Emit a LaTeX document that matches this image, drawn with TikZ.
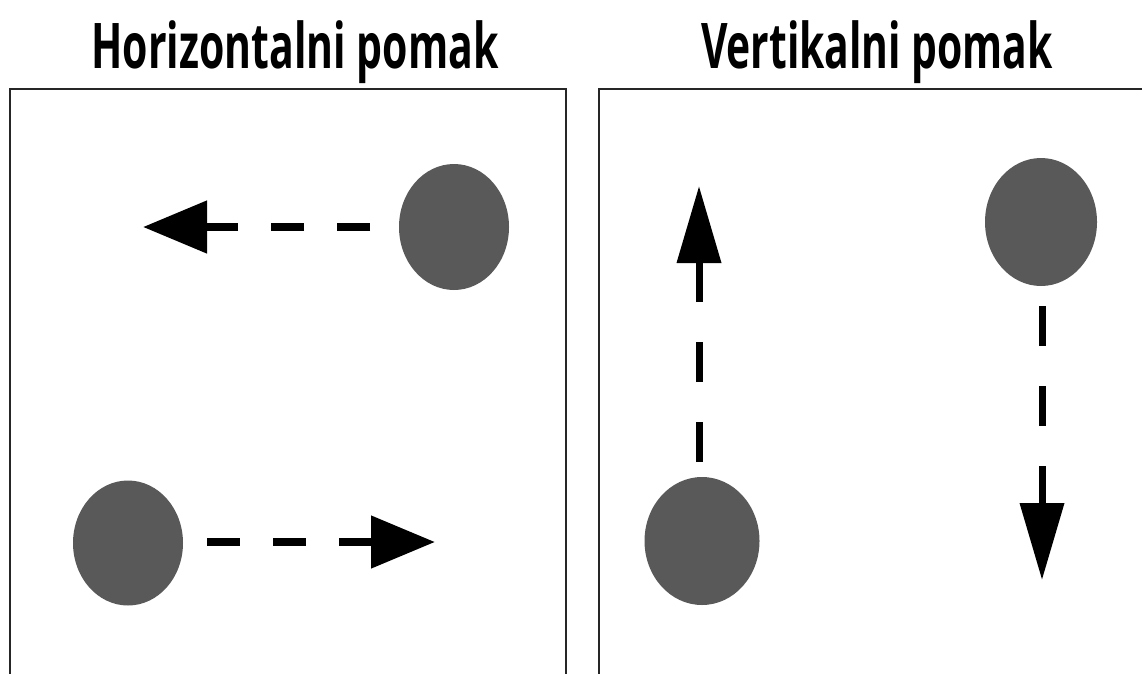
\documentclass[tikz,border=0pt]{standalone}
\usepackage{fontspec}
\setmainfont{Open Sans}
\usetikzlibrary{arrows.meta}
\definecolor{dotgray}{HTML}{595959}
\tikzset{
  frame/.style={line width=2.6pt, draw=black!85},
  dot/.style={ellipse, fill=dotgray, inner sep=0pt},
  harrow/.style={line width=8pt, dash pattern=on 33pt off 33pt, -{Triangle[length=64pt,width=51pt]}},
  varrow/.style={line width=7pt, dash pattern=on 40pt off 40pt, -{Triangle[length=77pt,width=43pt]}},
  title/.style={anchor=base, inner sep=0pt, font=\fontsize{63}{70}\selectfont\bfseries}
}
\usetikzlibrary{shapes.geometric}
\begin{document}
\begin{tikzpicture}[x=1pt,y=-1pt]
\useasboundingbox (0,0) rectangle (1142,673);
\clip (0,0) rectangle (1142,673);
% titles
\node[title] (t1) at (295,68) {\resizebox{407pt}{\height}{Horizontalni pomak}};
\node[title] (t2) at (877,68) {\resizebox{352pt}{\height}{Vertikalni pomak}};
% frames
\draw[frame] (10,690) -- (10,89) -- (566,89) -- (566,690);
\draw[frame] (599,690) -- (599,89) -- (1160,89);
% dots
\node[dot, minimum width=110pt, minimum height=126pt] (d1) at (454,227) {};
\node[dot, minimum width=110pt, minimum height=125pt] (d2) at (128,543) {};
\node[dot, minimum width=115pt, minimum height=128pt] (d3) at (702,541) {};
\node[dot, minimum width=112pt, minimum height=128pt] (d4) at (1041,222) {};
% arrow ends
\coordinate (a1s) at (370,227);
\coordinate (a1e) at (143,227);
\coordinate (a2s) at (207,542);
\coordinate (a2e) at (435,542);
\coordinate (a3s) at (699,462);
\coordinate (a3e) at (699,186);
\coordinate (a4s) at (1042,306);
\coordinate (a4e) at (1042,580);
\draw[harrow] (a1s) -- (a1e);
\draw[harrow] (a2s) -- (a2e);
\draw[varrow] (a3s) -- (a3e);
\draw[varrow] (a4s) -- (a4e);
\end{tikzpicture}
\end{document}
